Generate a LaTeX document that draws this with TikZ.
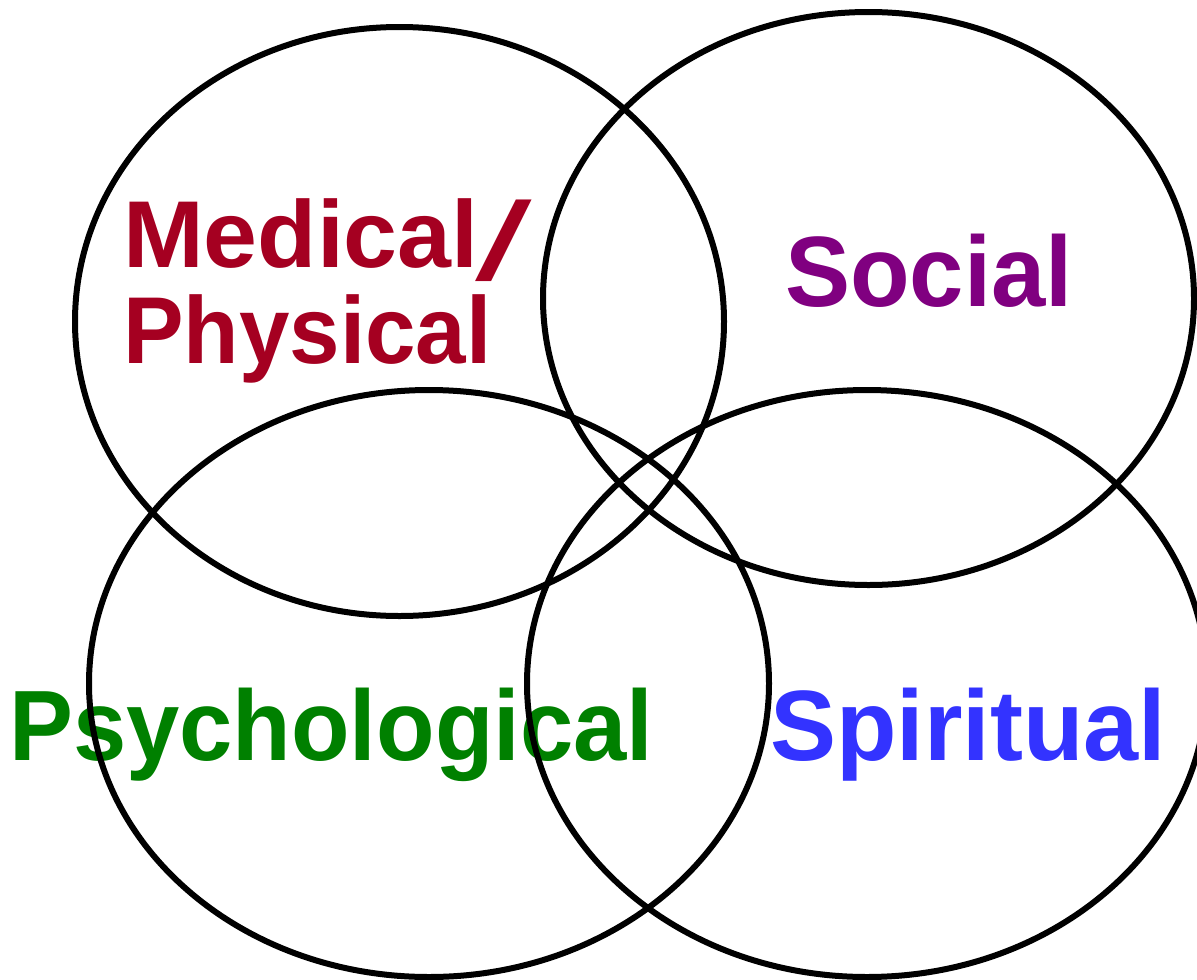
\documentclass[tikz,border=0pt]{standalone}
\usepackage{fontspec}
\setmainfont{Liberation Sans}
\definecolor{medred}{HTML}{A50021}
\definecolor{socpurple}{HTML}{800080}
\definecolor{psygreen}{HTML}{008000}
\definecolor{spiblue}{HTML}{3333FF}
\newcommand{\lblfont}[2]{\bfseries\fontsize{#1}{96}\selectfont\addfontfeature{FakeStretch=#2}}
\begin{document}
\begin{tikzpicture}[x=1pt,y=-1pt,
  ring/.style={draw=black,line width=6pt},
  lbl/.style={anchor=base west,inner sep=0pt}]
\useasboundingbox (0,0) rectangle (1197,980);
\node[lbl,text=medred,align=left,font=\bfseries\fontsize{95}{96}\selectfont] (med) at (123,363)
  {{\lblfont{95}{1.02}Medical\kern-3pt\smash{\raisebox{-13pt}{\scalebox{2.1}[1.17]{\mdseries /}}}}\\
   {\lblfont{95}{0.955}Physical}};
\node[lbl,text=socpurple,font=\lblfont{100}{0.976}] (soc) at (785,306) {Social};
\node[lbl,text=psygreen,font=\lblfont{100}{0.958}] (psy) at (9,760) {Psychological};
\node[lbl,text=spiblue,font=\lblfont{100}{0.99}] (spi) at (770,760) {Spiritual};
\draw[ring] (399.5,321.5) ellipse [x radius=324.5, y radius=294.5];
\draw[ring] (868.5,298.5) ellipse [x radius=325.5, y radius=286.5];
\draw[ring] (429,683.5) ellipse [x radius=340, y radius=293.5];
\draw[ring] (867,683.5) ellipse [x radius=340, y radius=293.5];
\end{tikzpicture}
\end{document}
